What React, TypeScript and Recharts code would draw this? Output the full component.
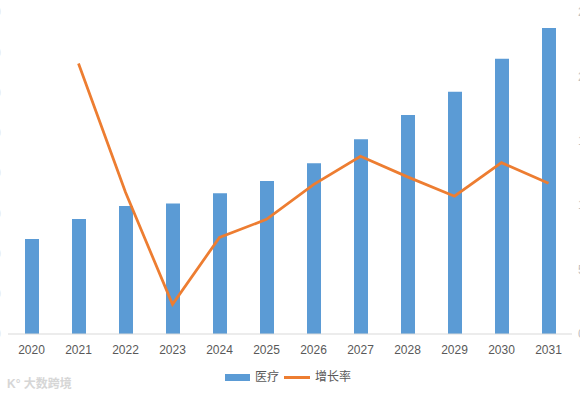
import React from "react";
import {
  ComposedChart,
  Bar,
  Line,
  XAxis,
  YAxis,
  CartesianGrid,
} from "recharts";

const years = [
  "2020", "2021", "2022", "2023", "2024", "2025",
  "2026", "2027", "2028", "2029", "2030", "2031",
];
// 医疗 (left axis)
const medical = [118, 143, 159, 162, 175, 190, 212, 242, 272, 301, 342, 380];
// 增长率 (right axis, %)
const growth = [null, 21.0, 11.0, 2.3, 7.5, 8.9, 11.6, 13.8, 12.2, 10.7, 13.3, 11.7];

const leftTicks = [0, 50, 100, 150, 200, 250, 300, 350, 400];
const rightTicks = [0, 5, 10, 15, 20, 25];

const BAR_COLOR = "#5b9bd5";
const LINE_COLOR = "#ed7d31";
const TEXT_COLOR = "#595959";
const FONT = "'Liberation Sans', 'Noto Sans CJK SC', sans-serif";

const chartData = years.map((year, i) => ({
  year,
  medical: medical[i],
  growth: growth[i],
}));

const App = () => {
  return (
    <div
      style={{
        position: "absolute",
        left: 0,
        top: 0,
        width: 580,
        height: 396,
        background: "#fff",
        fontFamily: FONT,
        overflow: "hidden",
      }}
    >
      <ComposedChart
        width={580}
        height={396}
        data={chartData}
        margin={{ top: 12, right: 0, bottom: 42, left: 0 }}
        barCategoryGap={0}
      >
        <CartesianGrid stroke="none" />
        <XAxis
          dataKey="year"
          height={20}
          axisLine={{ stroke: "#d9d9d9" }}
          tickLine={false}
          tickMargin={5}
          tick={{ fill: TEXT_COLOR, fontSize: 12, fontFamily: FONT }}
          interval={0}
        />
        {/* both value axes sit at the picture's edges, labels mostly cut off as in the source */}
        <YAxis
          yAxisId="left"
          width={8}
          domain={[0, 400]}
          ticks={leftTicks}
          axisLine={false}
          tickLine={false}
          tickSize={0}
          tickMargin={7}
          tick={{ fill: "#e3e3e3", fontSize: 12, fontFamily: FONT }}
        />
        <YAxis
          yAxisId="right"
          orientation="right"
          width={8}
          domain={[0, 25]}
          ticks={rightTicks}
          axisLine={false}
          tickLine={false}
          tickSize={0}
          tickMargin={6}
          tickFormatter={(v: number) => `${v}%`}
          tick={{ fill: "#bfbfbf", fontSize: 12, fontFamily: FONT }}
        />
        <Bar
          yAxisId="left"
          dataKey="medical"
          name="医疗"
          fill={BAR_COLOR}
          barSize={14}
          isAnimationActive={false}
        />
        <Line
          yAxisId="right"
          dataKey="growth"
          name="增长率"
          stroke={LINE_COLOR}
          strokeWidth={2.75}
          dot={false}
          type="linear"
          connectNulls={false}
          isAnimationActive={false}
        />
      </ComposedChart>

      {/* legend */}
      <div
        style={{
          position: "absolute",
          top: 369,
          left: 225,
          display: "flex",
          alignItems: "center",
          fontSize: 12,
          color: TEXT_COLOR,
          fontFamily: FONT,
          lineHeight: "16px",
        }}
      >
        <span style={{ width: 25, height: 7, background: BAR_COLOR, display: "inline-block" }} />
        <span style={{ marginLeft: 5 }}>医疗</span>
        <span
          style={{
            width: 26,
            height: 3,
            background: LINE_COLOR,
            display: "inline-block",
            marginLeft: 5,
          }}
        />
        <span style={{ marginLeft: 5 }}>增长率</span>
      </div>

      {/* watermark */}
      <div
        style={{
          position: "absolute",
          top: 374,
          left: 7,
          fontSize: 12,
          color: "#d6d6d6",
          fontFamily: FONT,
          fontWeight: "bold",
        }}
      >
        K° 大数跨境
      </div>
    </div>
  );
};

export default App;
